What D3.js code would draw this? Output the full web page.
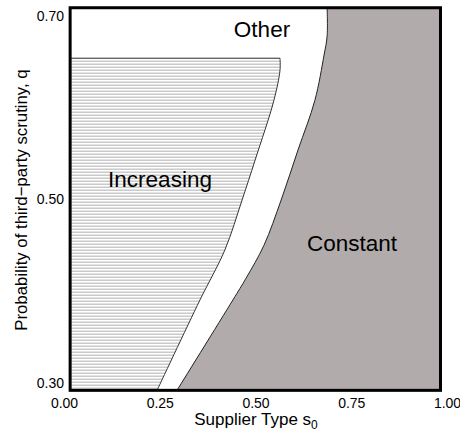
<!DOCTYPE html>
<html>
<head>
<meta charset="utf-8">
<script src="https://cdn.jsdelivr.net/npm/d3@7"></script>
<style>
  body { margin: 0; background: #fff; }
  svg text { font-family: "Liberation Sans", Arial, Helvetica, sans-serif; fill: #000; }
</style>
</head>
<body>
<svg id="chart" width="460" height="436"></svg>
<script>
// tick values
const xTicks = [0.00, 0.25, 0.50, 0.75, 1.00];
const yTicks = [0.30, 0.50, 0.70];

// boundary of the "Increasing" region (s0, q), top to bottom
const incS = [0.564, 0.564, 0.548, 0.499, 0.465, 0.420, 0.355, 0.243];
const incQ = [0.654, 0.641, 0.608, 0.543, 0.4995, 0.445, 0.3905, 0.292];
const incTopQ = 0.654;

// boundary of the "Constant" region (s0, q), top to bottom
const conS = [0.687, 0.687, 0.679, 0.655, 0.611, 0.567, 0.522, 0.475, 0.441, 0.295];
const conQ = [0.709, 0.678, 0.6575, 0.608, 0.554, 0.4995, 0.450, 0.414, 0.3905, 0.292];

// plot box limits in data units
const sMin = 0.016, sMax = 0.983, qMin = 0.292, qMax = 0.709;

const svg = d3.select("#chart");
const x = d3.scaleLinear().domain([0, 1]).range([64, 447]);
const y = d3.scaleLinear().domain([0.30, 0.70]).range([383, 16]);

// hatch pattern
const pat = svg.append("defs").append("pattern")
  .attr("id", "hatch").attr("patternUnits", "userSpaceOnUse")
  .attr("width", 8).attr("height", 3);
pat.append("rect").attr("width", 8).attr("height", 3).attr("fill", "#fff");
pat.append("rect").attr("y", 0.5).attr("width", 8).attr("height", 1.5).attr("fill", "#cacaca");

const line = d3.line().x(d => x(d[0])).y(d => y(d[1])).curve(d3.curveCatmullRom.alpha(0.5));
const incPts = incS.map((s, i) => [s, incQ[i]]);
const conPts = conS.map((s, i) => [s, conQ[i]]);

// Constant region
svg.append("path")
  .attr("d", line(conPts) + "L" + x(sMax) + "," + y(qMin) + "L" + x(sMax) + "," + y(qMax) + "Z")
  .attr("fill", "#b1acab");
svg.append("path").attr("d", line(conPts)).attr("fill", "none").attr("stroke", "#222").attr("stroke-width", 1);

// Increasing region
svg.append("path")
  .attr("d", "M" + x(sMin) + "," + y(incTopQ) + "L" + line(incPts).slice(1) +
    "L" + x(sMin) + "," + y(qMin) + "Z")
  .attr("fill", "url(#hatch)");
svg.append("path")
  .attr("d", "M" + x(sMin) + "," + y(incTopQ) + "L" + line(incPts).slice(1))
  .attr("fill", "none").attr("stroke", "#333").attr("stroke-width", 1);

// frame
svg.append("rect")
  .attr("x", x(sMin)).attr("y", y(qMax))
  .attr("width", x(sMax) - x(sMin)).attr("height", y(qMin) - y(qMax))
  .attr("fill", "none").attr("stroke", "#000").attr("stroke-width", 3);

// axes
const xAxis = svg.append("g").attr("transform", "translate(0,398)")
  .call(d3.axisBottom(x).tickValues(xTicks).tickFormat(d3.format(".2f")).tickSize(0).tickPadding(0));
xAxis.select(".domain").remove();
xAxis.selectAll("text").attr("font-size", 14).attr("dy", "0.71em");

const yAxis = svg.append("g").attr("transform", "translate(64,0)")
  .call(d3.axisLeft(y).tickValues(yTicks).tickFormat(d3.format(".2f")).tickSize(0).tickPadding(0));
yAxis.select(".domain").remove();
yAxis.selectAll("text").attr("font-size", 14);

// axis titles
const xt = svg.append("text").attr("x", 256).attr("y", 425).attr("text-anchor", "middle").attr("font-size", 17);
xt.append("tspan").text("Supplier Type s");
xt.append("tspan").attr("font-size", 12).attr("dy", 4).text("0");

svg.append("text")
  .attr("transform", "translate(27,200) rotate(-90)")
  .attr("text-anchor", "middle").attr("font-size", 16.8)
  .text("Probability of third\u2212party scrutiny, q");

// region labels
svg.append("text").attr("x", 262).attr("y", 37).attr("text-anchor", "middle").attr("font-size", 22.5).text("Other");
svg.append("text").attr("x", 160).attr("y", 187).attr("text-anchor", "middle").attr("font-size", 22.5).text("Increasing");
svg.append("text").attr("x", 352).attr("y", 251).attr("text-anchor", "middle").attr("font-size", 22.5).text("Constant");
</script>
</body>
</html>
